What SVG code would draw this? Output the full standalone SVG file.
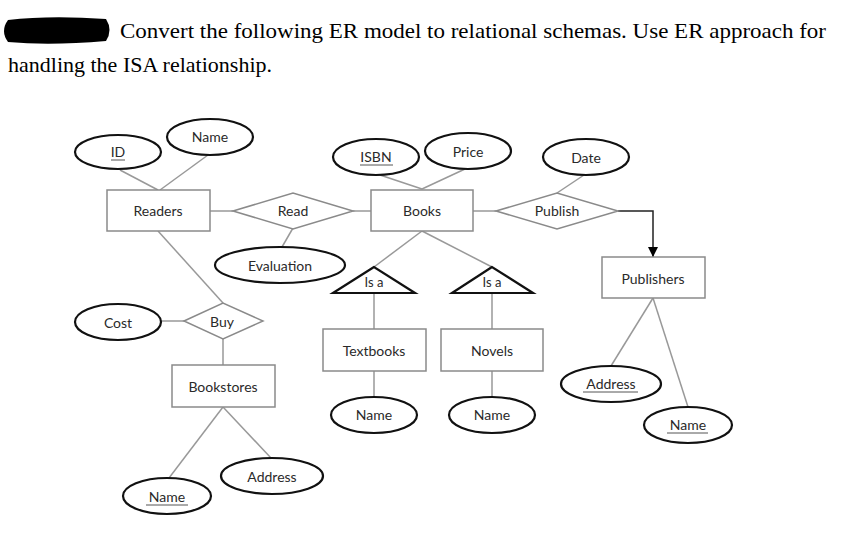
<svg xmlns="http://www.w3.org/2000/svg" width="854" height="558" viewBox="0 0 854 558">
<defs>
<style>
.hdr{font-family:"Liberation Serif","Times New Roman",serif;font-size:22px;fill:#000}
.t{font-family:Lato,"Liberation Sans",sans-serif;font-size:14px;fill:#2a2a2a;text-anchor:middle;dominant-baseline:central}
.ent{fill:#fff;stroke:#8a8a8a;stroke-width:1.5}
.rel{fill:#fff;stroke:#8a8a8a;stroke-width:1.5}
.att{fill:#fff;stroke:#111;stroke-width:2.2}
.isa{fill:#fff;stroke:#111;stroke-width:2.2}
.ln{fill:none;stroke:#999;stroke-width:1.5}
.ul{stroke:#555;stroke-width:1}
</style>
<marker id="arr" viewBox="0 0 10 10" refX="10" refY="5" markerWidth="10" markerHeight="10" markerUnits="userSpaceOnUse" orient="auto">
<path d="M0,0 L10,5 L0,10 Z" fill="#000"/>
</marker>
</defs>
<rect width="854" height="558" fill="#fff"/>
<g id="header">
<path d="M8,20 Q50,15 106,19 Q113,30 106,41 Q50,46 8,42 Q0,31 8,20 Z" fill="#000"/>
<text class="hdr" x="120" y="38" textLength="706" lengthAdjust="spacingAndGlyphs">Convert the following ER model to relational schemas. Use ER approach for</text>
<text class="hdr" x="8" y="72" textLength="264" lengthAdjust="spacingAndGlyphs">handling the ISA relationship.</text>
</g>
<g id="connectors">
<line class="ln" x1="120" y1="170" x2="158" y2="190"/>
<line class="ln" x1="208" y1="155" x2="160" y2="190"/>
<line class="ln" x1="210" y1="211" x2="233" y2="211"/>
<line class="ln" x1="293" y1="228" x2="282" y2="247"/>
<line class="ln" x1="353" y1="211" x2="371" y2="211"/>
<line class="ln" x1="380" y1="175" x2="422" y2="189"/>
<line class="ln" x1="465" y1="169" x2="422" y2="189"/>
<line class="ln" x1="473" y1="211" x2="496" y2="211"/>
<line class="ln" x1="584" y1="175" x2="557" y2="193"/>
<polyline fill="none" stroke="#222" stroke-width="1.5" points="618,211 653,211 653,257" marker-end="url(#arr)"/>
<line class="ln" x1="653" y1="298" x2="611" y2="366"/>
<line class="ln" x1="653" y1="298" x2="688" y2="407"/>
<line class="ln" x1="422" y1="231" x2="374" y2="267"/>
<line class="ln" x1="422" y1="231" x2="492" y2="267"/>
<line class="ln" x1="374" y1="293" x2="374" y2="329"/>
<line class="ln" x1="492" y1="293" x2="492" y2="329"/>
<line class="ln" x1="374" y1="371" x2="374" y2="397"/>
<line class="ln" x1="492" y1="371" x2="492" y2="397"/>
<line class="ln" x1="158" y1="231" x2="223" y2="303"/>
<line class="ln" x1="161" y1="321" x2="184" y2="321"/>
<line class="ln" x1="223" y1="339" x2="223" y2="365"/>
<line class="ln" x1="223" y1="407" x2="169" y2="478"/>
<line class="ln" x1="223" y1="407" x2="271" y2="458"/>
</g>
<g id="readers"><rect class="ent" x="107" y="190" width="103" height="41"/><text class="t" x="158" y="210">Readers</text></g>
<g id="reader-id"><ellipse class="att" cx="118" cy="152" rx="43" ry="17"/><text class="t" x="118" y="151">ID</text><line class="ul" x1="111" y1="160" x2="125" y2="160"/></g>
<g id="reader-name"><ellipse class="att" cx="210" cy="137" rx="43" ry="18"/><text class="t" x="210" y="136">Name</text></g>
<g id="read"><polygon class="rel" points="233,211 293,193 353,211 293,229"/><text class="t" x="293" y="210">Read</text></g>
<g id="evaluation"><ellipse class="att" cx="280" cy="265" rx="65" ry="18"/><text class="t" x="280" y="265">Evaluation</text></g>
<g id="books"><rect class="ent" x="371" y="190" width="102" height="41"/><text class="t" x="422" y="210">Books</text></g>
<g id="isbn"><ellipse class="att" cx="376" cy="157" rx="43" ry="18"/><text class="t" x="376" y="156">ISBN</text><line class="ul" x1="360" y1="165" x2="393" y2="165"/></g>
<g id="price"><ellipse class="att" cx="468" cy="151" rx="43" ry="18"/><text class="t" x="468" y="151">Price</text></g>
<g id="publish"><polygon class="rel" points="496,211 557,193 618,211 557,229"/><text class="t" x="557" y="210">Publish</text></g>
<g id="date"><ellipse class="att" cx="586" cy="157" rx="43" ry="18"/><text class="t" x="586" y="157">Date</text></g>
<g id="publishers"><rect class="ent" x="602" y="257" width="103" height="41"/><text class="t" x="653" y="278">Publishers</text></g>
<g id="pub-address"><ellipse class="att" cx="611" cy="384" rx="50" ry="18"/><text class="t" x="611" y="383">Address</text><line class="ul" x1="583" y1="392" x2="638" y2="392"/></g>
<g id="pub-name"><ellipse class="att" cx="688" cy="425" rx="44" ry="18"/><text class="t" x="688" y="424">Name</text><line class="ul" x1="667" y1="433" x2="708" y2="433"/></g>
<g id="isa1"><polygon class="isa" points="374,267 333,293 415,293"/><text class="t" x="374" y="282" style="font-size:13px">Is a</text></g>
<g id="isa2"><polygon class="isa" points="492,267 452,293 533,293"/><text class="t" x="492" y="282" style="font-size:13px">Is a</text></g>
<g id="textbooks"><rect class="ent" x="323" y="329" width="103" height="42"/><text class="t" x="374" y="350">Textbooks</text></g>
<g id="novels"><rect class="ent" x="441" y="329" width="102" height="42"/><text class="t" x="492" y="350">Novels</text></g>
<g id="textbook-name"><ellipse class="att" cx="374" cy="415" rx="43" ry="18"/><text class="t" x="374" y="414">Name</text></g>
<g id="novel-name"><ellipse class="att" cx="492" cy="415" rx="43" ry="18"/><text class="t" x="492" y="414">Name</text></g>
<g id="buy"><polygon class="rel" points="184,321 223,303 263,321 223,339"/><text class="t" x="222" y="321">Buy</text></g>
<g id="cost"><ellipse class="att" cx="118" cy="322" rx="43" ry="18"/><text class="t" x="118" y="322">Cost</text></g>
<g id="bookstores"><rect class="ent" x="172" y="365" width="103" height="42"/><text class="t" x="223" y="386">Bookstores</text></g>
<g id="store-name"><ellipse class="att" cx="167" cy="496" rx="44" ry="18"/><text class="t" x="167" y="496">Name</text><line class="ul" x1="146" y1="505" x2="188" y2="505"/></g>
<g id="store-address"><ellipse class="att" cx="272" cy="476" rx="51" ry="18"/><text class="t" x="272" y="476">Address</text></g>
</svg>
